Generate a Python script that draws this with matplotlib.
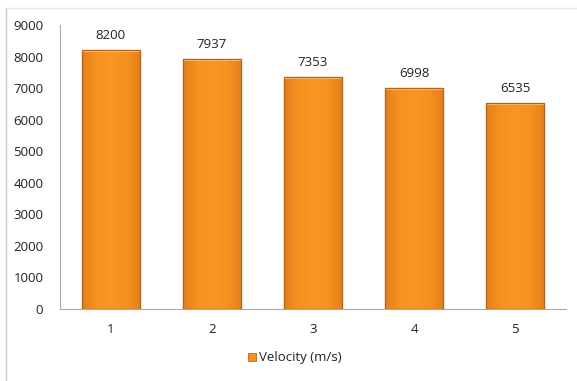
import matplotlib.pyplot as plt
import numpy as np
from matplotlib.patches import Rectangle
from matplotlib.colors import LinearSegmentedColormap

categories = ['1', '2', '3', '4', '5']
velocity = [8200, 7937, 7353, 6998, 6535]
y_ticks = [0, 1000, 2000, 3000, 4000, 5000, 6000, 7000, 8000, 9000]
series_name = 'Velocity (m/s)'

plt.rcParams['font.family'] = ['Open Sans', 'DejaVu Sans']

fig = plt.figure(figsize=(5.77, 3.81), dpi=100)
fig.patch.set_facecolor('white')

# thin frame around the chart area
fig.add_artist(plt.Line2D([6 / 577, 6 / 577], [0, 1 - 8 / 381], color='#c8c8c8', lw=1))
fig.add_artist(plt.Line2D([6 / 577, 1], [1 - 8 / 381, 1 - 8 / 381], color='#e4e4e4', lw=1))

ax = fig.add_axes([60 / 577, 72 / 381, 506 / 577, 284 / 381])
x = np.arange(len(categories))
width = 0.575

bars = ax.bar(x, velocity, width=width, color='#F7941D', edgecolor='#B8661A', linewidth=0.8, zorder=2)

# shaded fill: slightly darker towards the sides of each bar
cmap = LinearSegmentedColormap.from_list('bar', ['#E3801C', '#F6921F', '#F89723', '#F6921F', '#E3801C'])
grad = np.linspace(0, 1, 256).reshape(1, -1)
for b in bars:
    x0, w, h = b.get_x(), b.get_width(), b.get_height()
    im = ax.imshow(grad, cmap=cmap, aspect='auto', extent=[x0, x0 + w, 0, h], zorder=2.5)
    im.set_clip_path(b)
    ax.add_patch(Rectangle((x0, h - 70), w, 70, facecolor='#FFC060', edgecolor='none', zorder=2.6))
    ax.add_patch(Rectangle((x0, 0), w, h, facecolor='none', edgecolor='#B0631A', linewidth=0.9, zorder=2.7))

for xi, v in zip(x, velocity):
    ax.text(xi, v + 250, str(v), ha='center', va='bottom', fontsize=9.5, color='#222222')

ax.set_xlim(-0.5, len(categories) - 0.5)
ax.set_ylim(0, 9000)
ax.set_yticks(y_ticks)
ax.set_xticks(x)
ax.set_xticklabels(categories)
ax.tick_params(axis='both', length=0, labelsize=9.5, colors='#222222')
ax.tick_params(axis='y', pad=12)
ax.tick_params(axis='x', pad=10)
for side in ['top', 'right']:
    ax.spines[side].set_visible(False)
ax.spines['left'].set_color('#aaaaaa')
ax.spines['bottom'].set_color('#aaaaaa')

# legend below the chart
fig.add_artist(Rectangle((248 / 577, 1 - 361 / 381), 8 / 577, 8 / 381, transform=fig.transFigure,
                         facecolor='#F7941D', edgecolor='#B8661A', linewidth=0.6))
fig.text(259 / 577, 1 - 357 / 381, series_name, ha='left', va='center', fontsize=9.5, color='#222222')

fig.savefig('out.png', dpi=100)
